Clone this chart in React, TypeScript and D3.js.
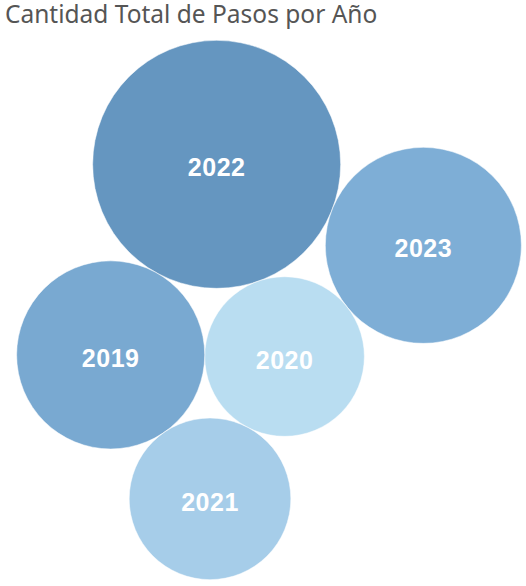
import { useMemo } from "react";
import * as d3 from "d3";

const WIDTH = 526;
const HEIGHT = 586;

const title = "Cantidad Total de Pasos por Año";

// packing order: first bubble in the middle, the rest laid against earlier ones
const years = ["2022", "2023", "2020", "2019", "2021"];
const pasos = [4850000, 3030000, 2010000, 2790000, 2060000];
const fills = ["#6596c0", "#7eaed6", "#b9ddf1", "#79a9d1", "#a6cde9"];
const restsOn: (string[] | null)[] = [null, null, ["2022", "2023"], ["2022", "2020"], ["2019", "2020"]];

type Bubble = { year: string; value: number; r: number; x: number; y: number };

// centre of a circle of radius r touching a and b, on the clockwise side of a->b
function touching(a: Bubble, b: Bubble, r: number): [number, number] {
  const dx = b.x - a.x, dy = b.y - a.y;
  const d = Math.hypot(dx, dy);
  const ra = a.r + r, rb = b.r + r;
  const along = (ra * ra - rb * rb + d * d) / (2 * d);
  const h = Math.sqrt(Math.max(0, ra * ra - along * along));
  const ux = dx / d, uy = dy / d;
  return [a.x + along * ux - h * uy, a.y + along * uy + h * ux];
}

export default function App() {
  const bubbles = useMemo(() => {
    const rScale = d3.scaleSqrt().domain([0, d3.max(pasos)!]).range([0, 124]);
    const firstAngle = (21.4 * Math.PI) / 180;
    const placed: Bubble[] = [];
    years.forEach((year, i) => {
      const r = rScale(pasos[i]);
      const b: Bubble = { year, value: pasos[i], r, x: 0, y: 0 };
      if (i === 1) {
        const d = placed[0].r + r;
        b.x = d * Math.cos(firstAngle);
        b.y = d * Math.sin(firstAngle);
      } else if (i > 1) {
        const [ya, yb] = restsOn[i]!;
        const a = placed.find(p => p.year === ya)!;
        const c = placed.find(p => p.year === yb)!;
        [b.x, b.y] = touching(a, c, r);
      }
      placed.push(b);
    });

    // centre the pack in the view under the title
    const x0 = d3.min(placed, p => p.x - p.r)!;
    const x1 = d3.max(placed, p => p.x + p.r)!;
    const y0 = d3.min(placed, p => p.y - p.r)!;
    const y1 = d3.max(placed, p => p.y + p.r)!;
    const cx = 269, cy = 310;
    const ox = cx - (x0 + x1) / 2, oy = cy - (y0 + y1) / 2;
    return placed.map(p => ({ ...p, x: p.x + ox, y: p.y + oy }));
  }, []);

  const color = d3.scaleOrdinal<string, string>().domain(years).range(fills);

  return (
    <svg
      width={WIDTH}
      height={HEIGHT}
      style={{ position: "absolute", left: 0, top: 0, background: "#fff" }}
    >
      <text x={5} y={23} fontFamily="'Noto Sans', sans-serif" fontSize={24.5} fill="#555">
        {title}
      </text>
      {bubbles.map(b => (
        <g key={b.year}>
          <circle cx={b.x} cy={b.y} r={b.r} fill={color(b.year)} stroke="#fff" strokeWidth={0.5} />
          <text
            x={b.x}
            y={b.y + 12}
            textAnchor="middle"
            fontFamily="'Liberation Sans', Arial, sans-serif"
            fontWeight="bold"
            fontSize={25}
            letterSpacing={0.5}
            fill="#fff"
          >
            {b.year}
          </text>
        </g>
      ))}
    </svg>
  );
}
